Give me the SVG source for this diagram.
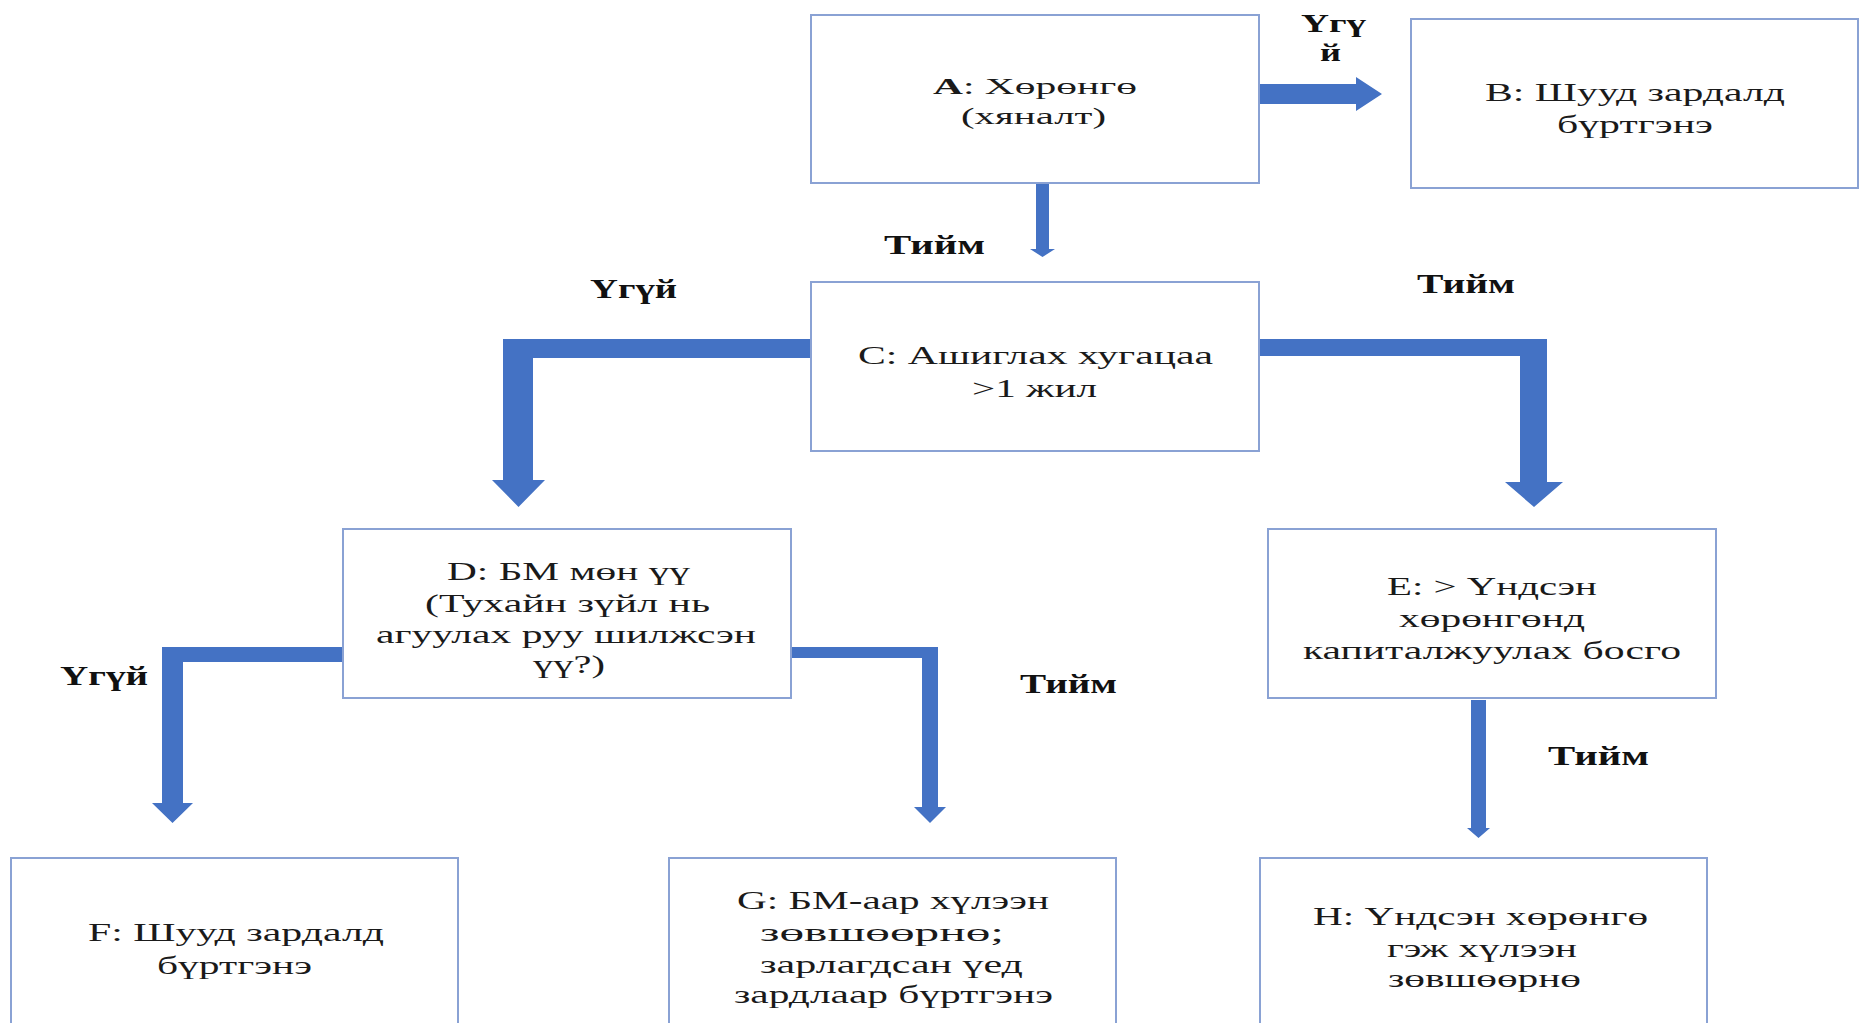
<svg xmlns="http://www.w3.org/2000/svg" width="1860" height="1023" viewBox="0 0 1860 1023">
<style>
.box{fill:#ffffff;stroke:#8aa2d4;stroke-width:2}
.arr{fill:#4472c4}
.t{font-family:"Liberation Serif","Times New Roman",serif;font-size:26px;fill:#1a1a1a}
.ta{font-size:23px}
.lb{font-family:"Liberation Serif","Times New Roman",serif;font-size:28px;font-weight:bold;fill:#111111}
.ls{font-size:26px}
</style>
<rect x="0" y="0" width="1860" height="1023" fill="#ffffff"/>
<g id="connectors">
<polygon class="arr" points="1259,84 1356,84 1356,77 1382,94 1356,111 1356,104 1259,104"/>
<polygon class="arr" points="1036,182 1049,182 1049,249 1055,249 1042.5,257 1030,249 1036,249"/>
<polygon class="arr" points="811,339 503,339 503,480 492,480 518.5,507 545,480 533,480 533,358 811,358"/>
<polygon class="arr" points="1259,339 1547,339 1547,482 1563,482 1534,507 1505,482 1520,482 1520,356 1259,356"/>
<polygon class="arr" points="343,647 162,647 162,803 152,803 172.5,823 193,803 183,803 183,662 343,662"/>
<polygon class="arr" points="791,647 938,647 938,807 946,807 930,823 914,807 922,807 922,658 791,658"/>
<polygon class="arr" points="1471,700 1486,700 1486,828 1490,828 1478.5,838 1467,828 1471,828"/>
<text class="lb ls" x="1301" y="32" textLength="65" lengthAdjust="spacingAndGlyphs">Үгү</text>
<text class="lb ls" x="1320" y="61" textLength="21" lengthAdjust="spacingAndGlyphs">й</text>
<text class="lb" x="884" y="254" textLength="101" lengthAdjust="spacingAndGlyphs">Тийм</text>
<text class="lb" x="590" y="298" textLength="87" lengthAdjust="spacingAndGlyphs">Үгүй</text>
<text class="lb" x="1417" y="293" textLength="98" lengthAdjust="spacingAndGlyphs">Тийм</text>
<text class="lb" x="60" y="685" textLength="88" lengthAdjust="spacingAndGlyphs">Үгүй</text>
<text class="lb" x="1020" y="693" textLength="97" lengthAdjust="spacingAndGlyphs">Тийм</text>
<text class="lb" x="1548" y="765" textLength="101" lengthAdjust="spacingAndGlyphs">Тийм</text>
</g>
<g id="nodeA">
<rect class="box" x="811" y="15" width="448" height="168"/>
<text class="t ta" x="933" y="94" textLength="204" lengthAdjust="spacingAndGlyphs"><tspan font-weight="bold">A</tspan>: Хөрөнгө</text>
<text class="t ta" x="961" y="124" textLength="145" lengthAdjust="spacingAndGlyphs">(хяналт)</text>
</g>
<g id="nodeB">
<rect class="box" x="1411" y="19" width="447" height="169"/>
<text class="t" x="1485" y="101" textLength="300" lengthAdjust="spacingAndGlyphs">B: Шууд зардалд</text>
<text class="t" x="1557" y="133" textLength="156" lengthAdjust="spacingAndGlyphs">бүртгэнэ</text>
</g>
<g id="nodeC">
<rect class="box" x="811" y="282" width="448" height="169"/>
<text class="t" x="858" y="364" textLength="355" lengthAdjust="spacingAndGlyphs">C: Ашиглах хугацаа</text>
<text class="t" x="972" y="397" textLength="125" lengthAdjust="spacingAndGlyphs">&gt;1 жил</text>
</g>
<g id="nodeD">
<rect class="box" x="343" y="529" width="448" height="169"/>
<text class="t" x="447" y="580" textLength="243" lengthAdjust="spacingAndGlyphs">D: БМ мөн үү</text>
<text class="t" x="425" y="612" textLength="285" lengthAdjust="spacingAndGlyphs">(Тухайн зүйл нь</text>
<text class="t" x="376" y="643" textLength="380" lengthAdjust="spacingAndGlyphs">агуулах руу шилжсэн</text>
<text class="t" x="533" y="673" textLength="72" lengthAdjust="spacingAndGlyphs">үү?)</text>
</g>
<g id="nodeE">
<rect class="box" x="1268" y="529" width="448" height="169"/>
<text class="t" x="1387" y="595" textLength="210" lengthAdjust="spacingAndGlyphs">E: &gt; Үндсэн</text>
<text class="t" x="1399" y="627" textLength="186" lengthAdjust="spacingAndGlyphs">хөрөнгөнд</text>
<text class="t" x="1303" y="659" textLength="378" lengthAdjust="spacingAndGlyphs">капиталжуулах босго</text>
</g>
<g id="nodeF">
<rect class="box" x="11" y="858" width="447" height="200"/>
<text class="t" x="88" y="941" textLength="296" lengthAdjust="spacingAndGlyphs">F: Шууд зардалд</text>
<text class="t" x="157" y="974" textLength="155" lengthAdjust="spacingAndGlyphs">бүртгэнэ</text>
</g>
<g id="nodeG">
<rect class="box" x="669" y="858" width="447" height="200"/>
<text class="t" x="737" y="909" textLength="312" lengthAdjust="spacingAndGlyphs">G: БМ-аар хүлээн</text>
<text class="t" x="760" y="941" textLength="244" lengthAdjust="spacingAndGlyphs">зөвшөөрнө;</text>
<text class="t" x="760" y="973" textLength="263" lengthAdjust="spacingAndGlyphs">зарлагдсан үед</text>
<text class="t" x="734" y="1003" textLength="319" lengthAdjust="spacingAndGlyphs">зардлаар бүртгэнэ</text>
</g>
<g id="nodeH">
<rect class="box" x="1260" y="858" width="447" height="200"/>
<text class="t" x="1313" y="925" textLength="335" lengthAdjust="spacingAndGlyphs">H: Үндсэн хөрөнгө</text>
<text class="t" x="1387" y="957" textLength="190" lengthAdjust="spacingAndGlyphs">гэж хүлээн</text>
<text class="t" x="1388" y="987" textLength="193" lengthAdjust="spacingAndGlyphs">зөвшөөрнө</text>
</g>
</svg>
